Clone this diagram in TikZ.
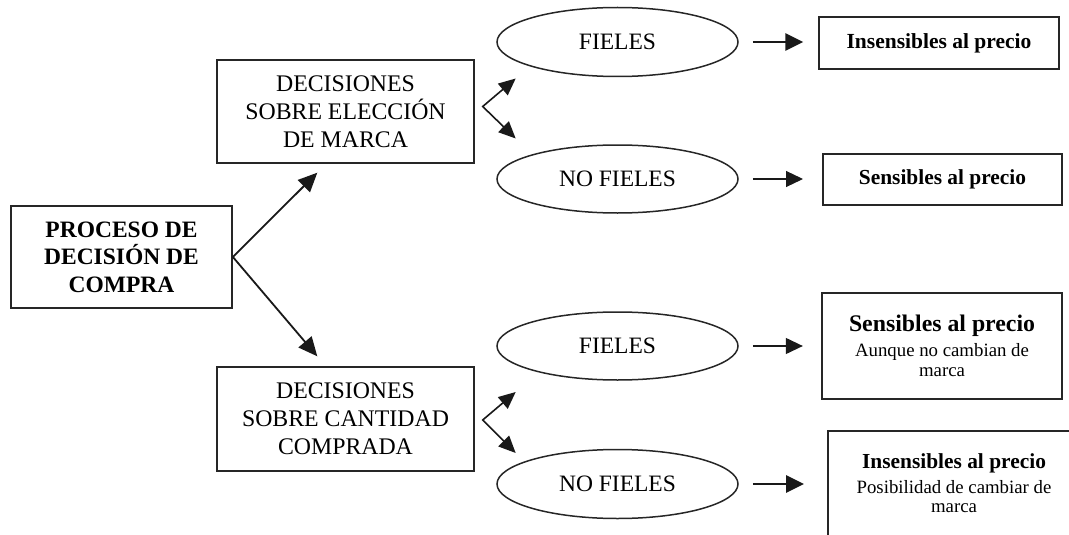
\documentclass[tikz,border=0pt]{standalone}
\usepackage{fontspec}
\setmainfont{Liberation Serif}
\usetikzlibrary{shapes.geometric,arrows.meta,calc}
\begin{document}
\begin{tikzpicture}[x=1pt,y=-1pt,
  box/.style={draw=black!85, line width=1.4pt, rectangle, inner sep=0pt, align=center},
  oval/.style={draw=black!85, line width=1.5pt, ellipse, inner sep=0pt,
    minimum width=241pt, minimum height=69pt, font=\fontsize{23.5}{28}\selectfont},
  big/.style={font=\fontsize{23.8}{28}\selectfont},
  bigarrow/.style={draw=black!90, line width=1.8pt, -{Triangle[length=19pt,width=17pt]}},
  fork/.style={draw=black!90, line width=1.6pt,
    {Triangle[length=17pt,width=15pt]}-{Triangle[length=17pt,width=15pt]}},
  thickarrow/.style={draw=black!90, line width=2.8pt, -{Triangle[length=18pt,width=17pt]}},
  thinarrow/.style={draw=black!90, line width=1.2pt, -{Triangle[length=17pt,width=16pt]}},
]
\useasboundingbox (0,0) rectangle (1069,535);
\clip (0,0) rectangle (1069,535);

% root of the process
\node[box, line width=1.8pt, minimum width=221pt, minimum height=102pt,
  font=\fontsize{23.5}{27.5}\selectfont\bfseries] (proc) at (121.5,257)
  {PROCESO DE\\DECISIÓN DE\\COMPRA};

% the two kinds of decision
\node[box, big, minimum width=257pt, minimum height=103pt] (marca) at (345.5,111.5)
  {DECISIONES\\SOBRE ELECCIÓN\\DE MARCA};
\node[box, big, minimum width=257pt, minimum height=104pt] (cant) at (345.5,419)
  {DECISIONES\\SOBRE CANTIDAD\\COMPRADA};

% loyalty ovals
\node[oval] (e1) at (617.5,42) {FIELES};
\node[oval, minimum height=68pt] (e2) at (617.5,179) {NO FIELES};
\node[oval, minimum height=68pt] (e3) at (617.5,346) {FIELES};
\node[oval] (e4) at (617.5,484) {NO FIELES};

% price sensitivity results
\node[box, line width=1.5pt, minimum width=240pt, minimum height=52pt,
  font=\fontsize{21.5}{24}\selectfont\bfseries] (r1) at (939,43) {Insensibles al precio};
\node[box, line width=2pt, minimum width=239pt, minimum height=51pt,
  font=\fontsize{21.4}{24}\selectfont\bfseries] (r2) at (942.5,179.5) {Sensibles al precio};
\node[box, line width=2.3pt, minimum width=240pt, minimum height=106pt,
  font=\fontsize{18.8}{19.5}\selectfont] (r3) at (942,346)
  {{\fontsize{23.8}{25}\selectfont\bfseries Sensibles al precio}\\[5.5pt]Aunque no cambian de\\marca};
\node[box, line width=2pt, minimum width=254pt, minimum height=150pt, anchor=north west]
  (r4) at (827,430) {};
\node[align=center, inner sep=0pt, font=\fontsize{18.8}{19.5}\selectfont] (r4t) at (954,483)
  {{\fontsize{21.4}{24}\selectfont\bfseries Insensibles al precio}\\[5.5pt]Posibilidad de cambiar de\\marca};

% main branches
\draw[bigarrow] (proc.east) -- ($(marca.south west)+(101,9)$);
\draw[bigarrow] (proc.east) -- ($(cant.north west)+(101,-10)$);

% forks towards the ovals
\coordinate (fm) at ($(marca.east)+(8,-5)$);
\coordinate (fm1) at ($(fm)+(33,-28)$);
\coordinate (fm2) at ($(fm)+(33,32)$);
\draw[fork] (fm1) -- (fm) -- (fm2);
\coordinate (fc) at ($(cant.east)+(8,1)$);
\coordinate (fc1) at ($(fc)+(33,-28)$);
\coordinate (fc2) at ($(fc)+(33,33)$);
\draw[fork] (fc1) -- (fc) -- (fc2);

% ovals to results
\draw[thickarrow, shorten <=14pt, shorten >=15pt] (e1.east) -- (e1.east -| r1.west);
\draw[thinarrow, shorten <=14pt, shorten >=19pt] (e2.east) -- (e2.east -| r2.west);
\draw[thinarrow, shorten <=14pt, shorten >=18pt] (e3.east) -- (e3.east -| r3.west);
\draw[thickarrow, shorten <=14pt, shorten >=23pt] (e4.east) -- (e4.east -| r4.west);
\end{tikzpicture}
\end{document}
